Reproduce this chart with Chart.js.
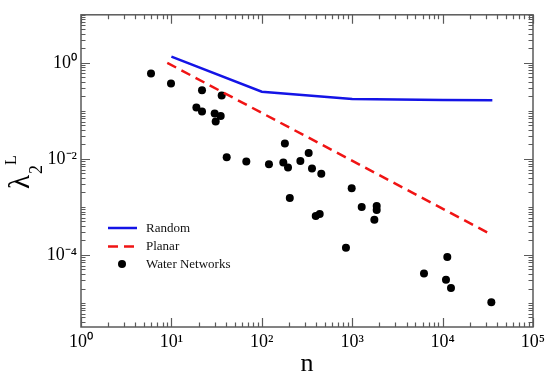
<!DOCTYPE html>
<html><head><meta charset="utf-8">
<script src="https://cdn.jsdelivr.net/npm/chart.js@4.4.1/dist/chart.umd.min.js"></script>
<style>html,body{margin:0;padding:0;background:#fff}</style>
</head><body>
<canvas id="c" width="550" height="377"></canvas>
<script>
// ---- data ----
const seriesNames = ['Random', 'Planar', 'Water Networks'];
const randomN = [10, 100, 1000, 10000, 35500];
const randomL = [1.35, 0.25, 0.176, 0.168, 0.166];
const planarN = [9, 31800];
const planarL = [1.0, 2.9e-4];
const waterN = [5.95, 9.9, 21.8, 36, 18.9, 21.8, 30.1, 35.1, 30.9, 40.9, 67.4, 120, 180, 173, 195, 267, 330, 359, 455, 204, 395, 437, 987, 1274, 1866, 1866, 1758, 853, 11270, 6225, 10900, 12380, 34600];
const waterL = [0.60, 0.37, 0.27, 0.21, 0.117, 0.097, 0.088, 0.078, 0.060, 0.0108, 0.0088, 0.0077, 0.0209, 0.0084, 0.0066, 0.0090, 0.0133, 0.0063, 0.0049, 0.00153, 0.00065, 0.00071, 0.00244, 0.0010, 0.00105, 0.00086, 0.00054, 0.000141, 9.1e-5, 4.1e-5, 3.05e-5, 2.06e-5, 1.03e-5];
const xLabelExps = [0, 1, 2, 3, 4, 5];
const yLabelExps = [0, -2, -4];
const xTitle = 'n';
const yTitleMain = 'λ', yTitleSub = '2', yTitleSup = 'L';

// ---- helpers ----
const SERIF = "'Liberation Serif', 'Times New Roman', serif";
const SUP = {'0':'⁰','1':'¹','2':'²','3':'³','4':'⁴','5':'⁵','6':'⁶','7':'⁷','8':'⁸','9':'⁹','-':'⁻'};
const supStr = e => String(e).split('').map(c => SUP[c]).join('');
const pts = (xs, ys) => xs.map((x, i) => ({x: x, y: ys[i]}));
const isPow = v => Math.abs(Math.log10(v) - Math.round(Math.log10(v))) < 1e-9;
function logTicks(min, max) {
  const out = [];
  for (let k = Math.floor(Math.log10(min)); k <= Math.ceil(Math.log10(max)); k++) {
    for (let m = 1; m <= 9; m++) {
      const v = m * Math.pow(10, k);
      if (v >= min * 0.9999 && v <= max * 1.0001) out.push(v);
    }
  }
  return out;
}
const X_MIN = 1, X_MAX = 1e5, Y_MIN = Math.pow(10, -5.5), Y_MAX = 10;

const frameTicks = {
  id: 'frameTicks',
  afterDatasetsDraw(chart) {
    const {ctx, chartArea: a, scales} = chart;
    ctx.save();
    ctx.strokeStyle = '#5a5a5a';
    ctx.lineWidth = 1.2;
    ctx.beginPath();
    scales.x.ticks.forEach(t => {
      const p = Math.round(scales.x.getPixelForValue(t.value)) + 0.5;
      const len = isPow(t.value) ? 9 : 4.5;
      ctx.moveTo(p, a.bottom); ctx.lineTo(p, a.bottom - len);
      ctx.moveTo(p, a.top); ctx.lineTo(p, a.top + len);
    });
    scales.y.ticks.forEach(t => {
      const p = Math.round(scales.y.getPixelForValue(t.value)) + 0.5;
      const e = Math.round(Math.log10(t.value));
      const len = (isPow(t.value) && e % 2 === 0) ? 9 : 4.5;
      ctx.moveTo(a.left, p); ctx.lineTo(a.left + len, p);
      ctx.moveTo(a.right, p); ctx.lineTo(a.right - len, p);
    });
    ctx.stroke();
    ctx.lineWidth = 1.5;
    ctx.strokeRect(a.left, a.top, a.right - a.left, a.bottom - a.top);
    ctx.restore();
  }
};

const legendAndTitle = {
  id: 'legendAndTitle',
  afterDraw(chart) {
    const {ctx} = chart;
    const ds = chart.data.datasets;
    ctx.save();
    // legend
    const x0 = 108, x1 = 137, tx = 146, rows = [228, 246.5, 264];
    ctx.font = '13px ' + SERIF;
    ctx.fillStyle = '#111';
    ctx.textBaseline = 'middle';
    ctx.textAlign = 'left';
    ds.forEach((d, i) => {
      const y = rows[i];
      if (d.showLine) {
        ctx.strokeStyle = d.borderColor;
        ctx.lineWidth = d.borderWidth;
        ctx.setLineDash(d.borderDash || []);
        ctx.beginPath(); ctx.moveTo(x0, y); ctx.lineTo(x1, y); ctx.stroke();
        ctx.setLineDash([]);
      } else {
        ctx.fillStyle = d.backgroundColor;
        ctx.beginPath(); ctx.arc((x0 + x1) / 2 - 0.5, y, 4, 0, Math.PI * 2); ctx.fill();
      }
      ctx.fillStyle = '#111';
      ctx.fillText(d.label, tx, y + 0.5);
    });
    // y title: lambda_2^L rotated
    ctx.translate(29, 189);
    ctx.rotate(-Math.PI / 2);
    ctx.textBaseline = 'alphabetic';
    ctx.fillStyle = '#000';
    ctx.font = '29px ' + SERIF;
    ctx.fillText(yTitleMain, 0, 0);
    const w = ctx.measureText(yTitleMain).width;
    ctx.font = '18px ' + SERIF;
    ctx.fillText(yTitleSub, w + 1, 13);
    ctx.font = '16px ' + SERIF;
    ctx.fillText(yTitleSup, w + 10, -13);
    ctx.restore();
  }
};

new Chart(document.getElementById('c'), {
  type: 'scatter',
  data: {
    datasets: [
      {label: seriesNames[0], data: pts(randomN, randomL), showLine: true, borderColor: '#1414e6', backgroundColor: '#1414e6', borderWidth: 2.5, pointRadius: 0, pointHoverRadius: 0, tension: 0},
      {label: seriesNames[1], data: pts(planarN, planarL), showLine: true, borderColor: '#f01414', backgroundColor: '#f01414', borderWidth: 2.5, borderDash: [10, 6], pointRadius: 0, pointHoverRadius: 0, tension: 0},
      {label: seriesNames[2], data: pts(waterN, waterL), showLine: false, backgroundColor: '#000', borderColor: '#000', borderWidth: 0, pointRadius: 4, pointHoverRadius: 4}
    ]
  },
  options: {
    responsive: false,
    animation: false,
    devicePixelRatio: 1,
    layout: {padding: {top: 9, right: 17, left: 0, bottom: 0}},
    plugins: {legend: {display: false}, tooltip: {enabled: false}},
    scales: {
      x: {
        type: 'logarithmic', min: X_MIN, max: X_MAX,
        grid: {display: false, drawTicks: false},
        border: {display: false},
        afterBuildTicks: s => { s.ticks = logTicks(X_MIN, X_MAX).map(v => ({value: v, major: isPow(v)})); },
        afterFit: s => { s.height = 50; },
        ticks: {
          autoSkip: false, maxRotation: 0, padding: 4, color: '#000',
          font: {family: SERIF, size: 18},
          callback: v => { const e = Math.round(Math.log10(v)); return (isPow(v) && xLabelExps.includes(e)) ? '10' + supStr(e) : ''; }
        },
        title: {display: true, text: xTitle, color: '#000', font: {family: SERIF, size: 26}, padding: {top: 0, bottom: -3}}
      },
      y: {
        type: 'logarithmic', min: Y_MIN, max: Y_MAX,
        grid: {display: false, drawTicks: false},
        border: {display: false},
        afterBuildTicks: s => { s.ticks = logTicks(Y_MIN, Y_MAX).map(v => ({value: v, major: isPow(v)})); },
        afterFit: s => { s.width = 81; },
        ticks: {
          autoSkip: false, padding: 4, color: '#000',
          font: {family: SERIF, size: 18},
          callback: v => { const e = Math.round(Math.log10(v)); return (isPow(v) && yLabelExps.includes(e)) ? '10' + supStr(e) : ''; }
        }
      }
    }
  },
  plugins: [frameTicks, legendAndTitle]
});
</script>
</body></html>
